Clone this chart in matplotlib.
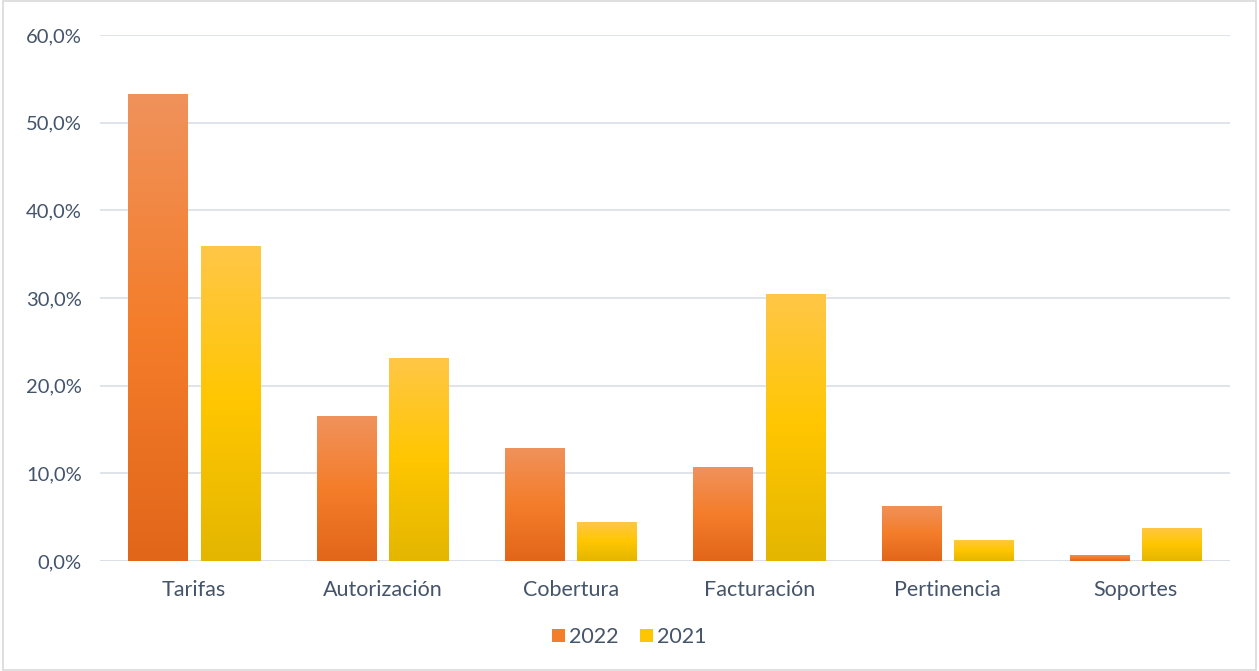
import numpy as np
import matplotlib.pyplot as plt
from matplotlib.colors import LinearSegmentedColormap
from matplotlib.patches import Rectangle
from matplotlib.ticker import FuncFormatter

categories = ['Tarifas', 'Autorización', 'Cobertura', 'Facturación', 'Pertinencia', 'Soportes']
series_names = ['2022', '2021']
vals_2022 = [53.3, 16.5, 12.9, 10.7, 6.3, 0.7]
vals_2021 = [35.9, 23.2, 4.4, 30.5, 2.4, 3.8]

# bottom -> middle -> top colours of the gradient fill
grad_2022 = ['#E2661A', '#F47D2A', '#F0925C']
grad_2021 = ['#E4B600', '#FFC600', '#FFC748']

plt.rcParams['font.family'] = ['Lato', 'DejaVu Sans']
txt = '#44546A'

fig = plt.figure(figsize=(12.59, 6.71), dpi=100)
ax = fig.add_axes([100/1259, 110/671, 1130/1259, 526/671])

width = 0.314
offset = 0.192
x = np.arange(len(categories))


def grad_bars(xpos, vals, cols):
    cmap = LinearSegmentedColormap.from_list('g', cols)
    grad = np.linspace(0, 1, 256).reshape(-1, 1)
    bars = ax.bar(xpos, vals, width, color=cols[1], zorder=2)
    for b in bars:
        x0, y0 = b.get_x(), b.get_y()
        w, h = b.get_width(), b.get_height()
        b.set_facecolor('none')
        im = ax.imshow(grad, cmap=cmap, origin='lower', aspect='auto',
                       extent=[x0, x0 + w, y0, y0 + h], zorder=2)
        im.set_clip_path(b)
    return bars


grad_bars(x - offset, vals_2022, grad_2022)
grad_bars(x + offset, vals_2021, grad_2021)

ax.set_xlim(-0.5, len(categories) - 0.5)
ax.set_ylim(0, 60)
ax.set_yticks(np.arange(0, 61, 10))
ax.yaxis.set_major_formatter(FuncFormatter(lambda v, p: f'{v:.1f}%'.replace('.', ',')))
ax.set_xticks(x)
ax.set_xticklabels(categories)
ax.grid(axis='y', color='#D9DEE6', linewidth=1.2, zorder=0)
ax.set_axisbelow(True)
for s in ax.spines.values():
    s.set_visible(False)
ax.axhline(0, color='#D9DEE6', linewidth=1.2, zorder=1)
ax.tick_params(length=0, colors=txt)
ax.tick_params(axis='x', labelsize=15.5, pad=14)
ax.tick_params(axis='y', labelsize=14.5, pad=13)

handles = [Rectangle((0, 0), 1, 1, facecolor=grad_2022[1]),
           Rectangle((0, 0), 1, 1, facecolor=grad_2021[1])]
leg = fig.legend(handles, series_names, loc='center', bbox_to_anchor=(0.5, 1 - 637/671),
                 ncol=2, frameon=False, fontsize=15.5, handlelength=0.6, handleheight=0.6,
                 handletextpad=0.2, columnspacing=1.0)
for t in leg.get_texts():
    t.set_color(txt)

fig.patches.append(Rectangle((0.002, 0.002), 0.996, 0.996, transform=fig.transFigure,
                             fill=False, edgecolor='#D9D9D9', linewidth=1.2))

fig.savefig('out.png', dpi=100)
